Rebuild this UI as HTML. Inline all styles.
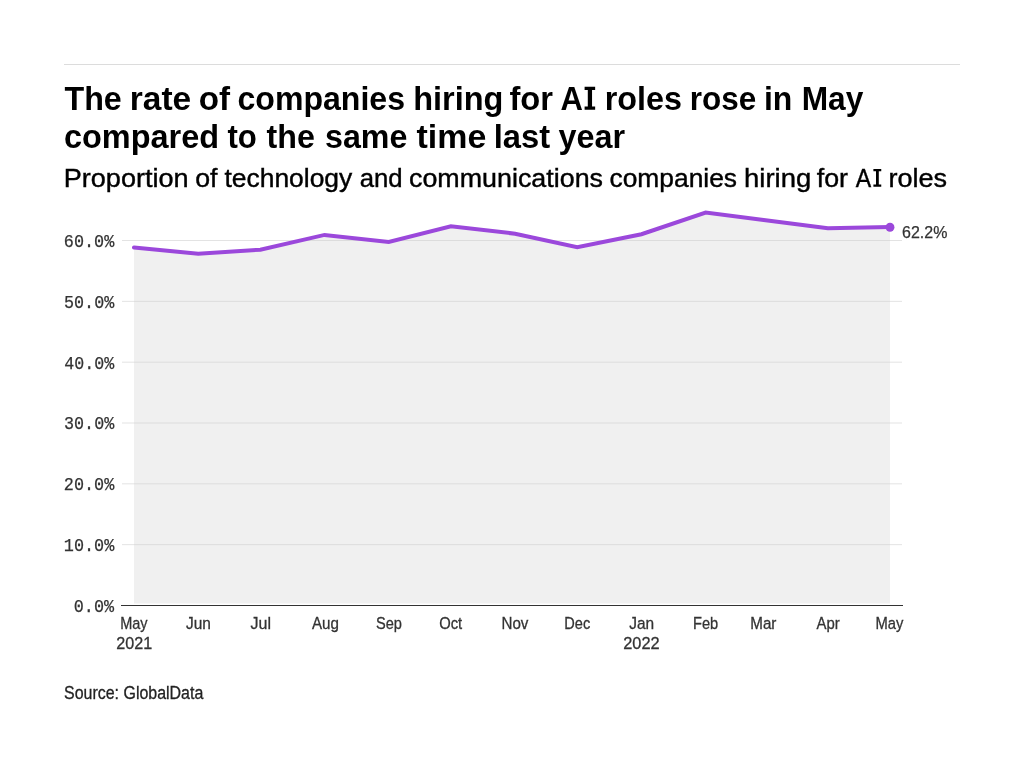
<!DOCTYPE html>
<html><head><meta charset="utf-8"><title>Chart</title>
<style>
html,body{margin:0;padding:0;background:#fff;}
body{width:1024px;height:768px;overflow:hidden;font-family:"Liberation Sans",sans-serif;}
svg{display:block;will-change:transform;transform:translateZ(0);}
text{font-family:"Liberation Sans",sans-serif;}
.title{font-weight:bold;font-size:33.5px;fill:#000;}
.sub{font-size:25.6px;fill:#000;stroke:#000;stroke-width:0.4px;}
.mono{font-family:"Liberation Mono",monospace;font-size:18px;fill:#333;stroke:#333;stroke-width:0.25px;}
.tick{font-size:16.8px;fill:#333;stroke:#333;stroke-width:0.3px;}
.src{font-size:18px;fill:#222;stroke:#222;stroke-width:0.3px;}
.val{font-size:16.6px;fill:#333;stroke:#333;stroke-width:0.25px;}
.grid line{stroke:#e3e3e3;stroke-width:1;}
</style></head><body>
<svg width="1024" height="768" viewBox="0 0 1024 768">
<rect width="1024" height="768" fill="#fff"/>
<line x1="64" x2="960" y1="64.5" y2="64.5" stroke="#dcdcdc" stroke-width="1"/>
<g class="grid"><line x1="122" x2="902" y1="544.67" y2="544.67"/><line x1="122" x2="902" y1="483.83" y2="483.83"/><line x1="122" x2="902" y1="423.00" y2="423.00"/><line x1="122" x2="902" y1="362.17" y2="362.17"/><line x1="122" x2="902" y1="301.33" y2="301.33"/><line x1="122" x2="902" y1="240.50" y2="240.50"/></g>
<path d="M134.00,603.4 L134.00,247.50 L198.21,253.70 L260.35,249.70 L324.55,234.90 L388.76,241.90 L450.90,226.20 L515.11,233.70 L577.24,247.20 L641.45,234.20 L705.66,212.50 L763.65,219.90 L827.86,228.25 L890.00,227.10 L890.00,603.4 Z" fill="#cccccc" fill-opacity="0.3"/>
<line x1="121" x2="903" y1="605.5" y2="605.5" stroke="#333" stroke-width="1"/>
<polyline points="134.00,247.50 198.21,253.70 260.35,249.70 324.55,234.90 388.76,241.90 450.90,226.20 515.11,233.70 577.24,247.20 641.45,234.20 705.66,212.50 763.65,219.90 827.86,228.25 890.00,227.10" fill="none" stroke="#9b48db" stroke-width="4" stroke-linejoin="miter" stroke-linecap="round"/>
<circle cx="890.00" cy="227.25" r="4.45" fill="#9b48db"/>
<text x="64.50" y="109.70" class="title" textLength="57.28" lengthAdjust="spacingAndGlyphs">The</text>
<text x="129.75" y="109.70" class="title" textLength="61.43" lengthAdjust="spacingAndGlyphs">rate</text>
<text x="198.75" y="109.70" class="title" textLength="31.30" lengthAdjust="spacingAndGlyphs">of</text>
<text x="237.50" y="109.70" class="title" textLength="167.54" lengthAdjust="spacingAndGlyphs">companies</text>
<text x="413.25" y="109.70" class="title" textLength="90.22" lengthAdjust="spacingAndGlyphs">hiring</text>
<text x="509.50" y="109.70" class="title" textLength="43.52" lengthAdjust="spacingAndGlyphs">for</text>
<text x="560.50" y="109.70" class="title" textLength="22.37" lengthAdjust="spacingAndGlyphs">A</text>
<text x="604.75" y="109.70" class="title" textLength="77.16" lengthAdjust="spacingAndGlyphs">roles</text>
<text x="689.75" y="109.70" class="title" textLength="66.40" lengthAdjust="spacingAndGlyphs">rose</text>
<text x="764.00" y="109.70" class="title" textLength="28.39" lengthAdjust="spacingAndGlyphs">in</text>
<text x="801.75" y="109.70" class="title" textLength="61.59" lengthAdjust="spacingAndGlyphs">May</text>
<text x="64.00" y="148.40" class="title" textLength="155.08" lengthAdjust="spacingAndGlyphs">compared</text>
<text x="227.50" y="148.40" class="title" textLength="29.37" lengthAdjust="spacingAndGlyphs">to</text>
<text x="266.50" y="148.40" class="title" textLength="48.30" lengthAdjust="spacingAndGlyphs">the</text>
<text x="325.00" y="148.40" class="title" textLength="82.32" lengthAdjust="spacingAndGlyphs">same</text>
<text x="416.50" y="148.40" class="title" textLength="69.79" lengthAdjust="spacingAndGlyphs">time</text>
<text x="493.75" y="148.40" class="title" textLength="56.39" lengthAdjust="spacingAndGlyphs">last</text>
<text x="558.50" y="148.40" class="title" textLength="66.51" lengthAdjust="spacingAndGlyphs">year</text>
<text x="63.75" y="186.90" class="sub" textLength="124.87" lengthAdjust="spacingAndGlyphs">Proportion</text>
<text x="195.25" y="186.90" class="sub" textLength="22.30" lengthAdjust="spacingAndGlyphs">of</text>
<text x="224.50" y="186.90" class="sub" textLength="127.75" lengthAdjust="spacingAndGlyphs">technology</text>
<text x="359.75" y="186.90" class="sub" textLength="42.90" lengthAdjust="spacingAndGlyphs">and</text>
<text x="409.00" y="186.90" class="sub" textLength="194.02" lengthAdjust="spacingAndGlyphs">communications</text>
<text x="609.50" y="186.90" class="sub" textLength="127.53" lengthAdjust="spacingAndGlyphs">companies</text>
<text x="744.00" y="186.90" class="sub" textLength="67.19" lengthAdjust="spacingAndGlyphs">hiring</text>
<text x="816.75" y="186.90" class="sub" textLength="31.28" lengthAdjust="spacingAndGlyphs">for</text>
<text x="855.80" y="186.90" class="sub" textLength="15.41" lengthAdjust="spacingAndGlyphs">A</text>
<text x="888.50" y="186.90" class="sub" textLength="58.62" lengthAdjust="spacingAndGlyphs">roles</text>
<text x="73.75" y="611.90" class="mono" textLength="40.29" lengthAdjust="spacingAndGlyphs">0.0%</text>
<text x="63.80" y="551.07" class="mono" textLength="50.45" lengthAdjust="spacingAndGlyphs">10.0%</text>
<text x="63.80" y="490.23" class="mono" textLength="50.45" lengthAdjust="spacingAndGlyphs">20.0%</text>
<text x="64.05" y="429.40" class="mono" textLength="50.19" lengthAdjust="spacingAndGlyphs">30.0%</text>
<text x="64.30" y="368.57" class="mono" textLength="49.94" lengthAdjust="spacingAndGlyphs">40.0%</text>
<text x="64.05" y="307.73" class="mono" textLength="50.19" lengthAdjust="spacingAndGlyphs">50.0%</text>
<text x="63.80" y="246.90" class="mono" textLength="50.45" lengthAdjust="spacingAndGlyphs">60.0%</text>
<text x="120.20" y="628.70" class="tick" textLength="27.40" lengthAdjust="spacingAndGlyphs">May</text>
<text x="186.00" y="628.70" class="tick" textLength="24.93" lengthAdjust="spacingAndGlyphs">Jun</text>
<text x="250.50" y="628.70" class="tick" textLength="20.46" lengthAdjust="spacingAndGlyphs">Jul</text>
<text x="312.00" y="628.70" class="tick" textLength="26.94" lengthAdjust="spacingAndGlyphs">Aug</text>
<text x="376.00" y="628.70" class="tick" textLength="25.95" lengthAdjust="spacingAndGlyphs">Sep</text>
<text x="439.25" y="628.70" class="tick" textLength="22.97" lengthAdjust="spacingAndGlyphs">Oct</text>
<text x="501.50" y="628.70" class="tick" textLength="26.91" lengthAdjust="spacingAndGlyphs">Nov</text>
<text x="564.25" y="628.70" class="tick" textLength="25.92" lengthAdjust="spacingAndGlyphs">Dec</text>
<text x="629.25" y="628.70" class="tick" textLength="24.93" lengthAdjust="spacingAndGlyphs">Jan</text>
<text x="693.00" y="628.70" class="tick" textLength="25.19" lengthAdjust="spacingAndGlyphs">Feb</text>
<text x="750.25" y="628.70" class="tick" textLength="26.18" lengthAdjust="spacingAndGlyphs">Mar</text>
<text x="816.50" y="628.70" class="tick" textLength="23.20" lengthAdjust="spacingAndGlyphs">Apr</text>
<text x="875.50" y="628.70" class="tick" textLength="27.90" lengthAdjust="spacingAndGlyphs">May</text>
<text x="116.25" y="648.90" class="tick" textLength="35.89" lengthAdjust="spacingAndGlyphs">2021</text>
<text x="623.25" y="648.90" class="tick" textLength="36.39" lengthAdjust="spacingAndGlyphs">2022</text>
<text x="902.10" y="238.00" class="val" textLength="45.31" lengthAdjust="spacingAndGlyphs">62.2%</text>
<text x="64.10" y="698.60" class="src" textLength="139.18" lengthAdjust="spacingAndGlyphs">Source: GlobalData</text>
<path d="M584.6,86.8h10.55v3.2h-3.1v16.6h3.1v3.15h-10.55v-3.15h3.2v-16.6h-3.2z" fill="#000"/>
<path d="M873.4,169.05h7.85v2.15h-2.45v13.4h2.45v2.15h-7.85v-2.15h2.6v-13.4h-2.6z" fill="#000"/>
</svg>
</body></html>
